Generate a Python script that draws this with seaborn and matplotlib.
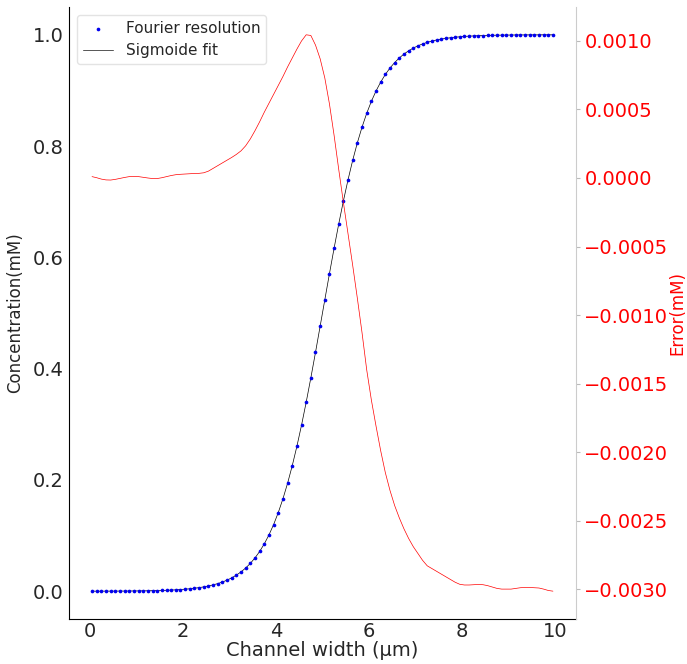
import numpy as np
import pandas as pd
import matplotlib
matplotlib.use("Agg")
import matplotlib.pyplot as plt
import seaborn as sns

# channel positions (um), one sample every 0.1
channel_x = np.round(np.arange(0.05, 10.0, 0.1), 2)

concentration = [
    0.0001, 0.0001, 0.0001, 0.0002, 0.0002, 0.0002, 0.0003, 0.0003, 0.0004, 0.0005,
    0.0006, 0.0007, 0.0008, 0.0010, 0.0012, 0.0014, 0.0017, 0.0021, 0.0025, 0.0030,
    0.0037, 0.0044, 0.0054, 0.0065, 0.0078, 0.0094, 0.0114, 0.0137, 0.0165, 0.0199,
    0.0240, 0.0289, 0.0347, 0.0417, 0.0500, 0.0598, 0.0714, 0.0851, 0.1011, 0.1197,
    0.1412, 0.1659, 0.1939, 0.2253, 0.2602, 0.2984, 0.3396, 0.3834, 0.4292, 0.4763,
    0.5237, 0.5708, 0.6166, 0.6604, 0.7016, 0.7398, 0.7747, 0.8061, 0.8341, 0.8588,
    0.8803, 0.8989, 0.9149, 0.9286, 0.9402, 0.9500, 0.9583, 0.9653, 0.9711, 0.9760,
    0.9801, 0.9835, 0.9863, 0.9886, 0.9906, 0.9922, 0.9935, 0.9946, 0.9956, 0.9963,
    0.9970, 0.9975, 0.9979, 0.9983, 0.9986, 0.9988, 0.9990, 0.9992, 0.9993, 0.9994,
    0.9995, 0.9996, 0.9997, 0.9997, 0.9998, 0.9998, 0.9998, 0.9999, 0.9999, 0.9999,
]

# fit error (mM)
error = [
    0.000010, 0.000002, -0.000008, -0.000014, -0.000015, -0.000010, -0.000003, 0.000004, 0.000010, 0.000012,
    0.000010, 0.000005, 0.000000, -0.000004, -0.000004, 0.000002, 0.000010, 0.000018, 0.000024, 0.000027,
    0.000029, 0.000031, 0.000033, 0.000034, 0.000038, 0.000050, 0.000070, 0.000090, 0.000110, 0.000130,
    0.000150, 0.000172, 0.000198, 0.000235, 0.000285, 0.000345, 0.000410, 0.000480, 0.000545, 0.000610,
    0.000675, 0.000740, 0.000810, 0.000875, 0.000940, 0.001000, 0.001045, 0.001040, 0.000970, 0.000870,
    0.000730, 0.000540, 0.000310, 0.000060, -0.000180, -0.000410, -0.000640, -0.000880, -0.001130, -0.001400,
    -0.001620, -0.001810, -0.001990, -0.002150, -0.002280, -0.002390, -0.002480, -0.002560, -0.002630, -0.002690,
    -0.002740, -0.002790, -0.002830, -0.002850, -0.002870, -0.002890, -0.002910, -0.002930, -0.002950, -0.002965,
    -0.002970, -0.002970, -0.002968, -0.002966, -0.002968, -0.002975, -0.002985, -0.002995, -0.003000, -0.003000,
    -0.003000, -0.002995, -0.002990, -0.002988, -0.002988, -0.002990, -0.002992, -0.003000, -0.003010, -0.003015,
]

df = pd.DataFrame({"x": channel_x, "conc": concentration, "err": error})

sns.set_style("white")
plt.rcParams["font.family"] = ["DejaVu Sans"]

fig = plt.figure(figsize=(6.87, 6.64), dpi=100)
ax = fig.add_axes([0.1004, 0.0678, 0.738, 0.9217])

sns.lineplot(data=df, x="x", y="conc", ax=ax, color="black", linewidth=0.5,
             label="Sigmoide fit", zorder=2)
sns.scatterplot(data=df, x="x", y="conc", ax=ax, color="#0000ee", s=7,
                linewidth=0, label="Fourier resolution", zorder=3)

ax2 = ax.twinx()
sns.lineplot(data=df, x="x", y="err", ax=ax2, color="red", linewidth=0.5)

ax.set_xticks([0, 2, 4, 6, 8, 10])
ax.set_yticks([0.0, 0.2, 0.4, 0.6, 0.8, 1.0])
ax2.set_yticks([0.0010, 0.0005, 0.0, -0.0005, -0.0010, -0.0015, -0.0020, -0.0025, -0.0030])

ax.set_xlabel("Channel width (µm)", fontsize=14, labelpad=0)
ax.set_ylabel("Concentration(mM)", fontsize=12, labelpad=6)
ax2.set_ylabel("Error(mM)", fontsize=12, color="red", labelpad=0)

ax.tick_params(axis="both", labelsize=14, length=0, pad=4)
ax.tick_params(axis="x", pad=2)
ax2.tick_params(axis="y", labelsize=14, labelcolor="red", length=3,
                color="#bbbbbb", width=0.8, pad=3)

for a in (ax, ax2):
    a.spines["top"].set_visible(False)
ax.spines["left"].set_color("black")
ax.spines["bottom"].set_color("black")
ax.spines["right"].set_visible(False)
ax2.spines["left"].set_visible(False)
ax2.spines["bottom"].set_visible(False)
ax2.spines["right"].set_color("#cccccc")

h, l = ax.get_legend_handles_labels()
if ax.get_legend() is not None:
    ax.get_legend().remove()
order = [l.index("Fourier resolution"), l.index("Sigmoide fit")]
leg = ax2.legend([h[i] for i in order], [l[i] for i in order], loc="upper left",
                 fontsize=11, frameon=True, borderaxespad=0.5)
leg.get_frame().set_edgecolor("#dddddd")
for line in leg.get_lines():
    line.set_color("#555555")
    line.set_linewidth(0.7)

fig.savefig("out.png", dpi=100)
